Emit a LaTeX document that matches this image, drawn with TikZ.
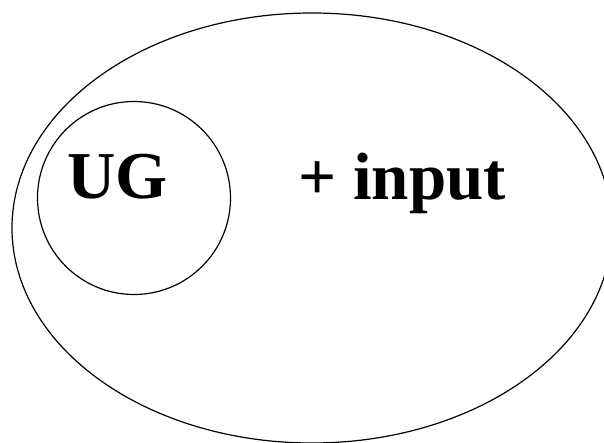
\documentclass[tikz,border=0pt]{standalone}
\usepackage{fontspec}
\setmainfont{Liberation Serif}
\usetikzlibrary{shapes.geometric}
\tikzset{
  outline/.style={draw=black, line width=1.2pt, inner sep=0pt},
  biglabel/.style={inner sep=0pt, anchor=base west,
    font=\fontsize{67}{76}\selectfont\bfseries}
}
\begin{document}
\begin{tikzpicture}[x=1pt, y=-1pt]
  \useasboundingbox (0,0) rectangle (604,443);
  % the whole: universal grammar plus input
  \node[outline, ellipse, minimum width=600pt, minimum height=430pt] (outer) at (312,228) {};
  % universal grammar
  \node[outline, circle, minimum size=193pt] (ugc) at (134,198) {};
  \node[biglabel] (ug) at (67,199) {UG};
  \node[biglabel] (inp) at (298,200) {+ input};
\end{tikzpicture}
\end{document}
